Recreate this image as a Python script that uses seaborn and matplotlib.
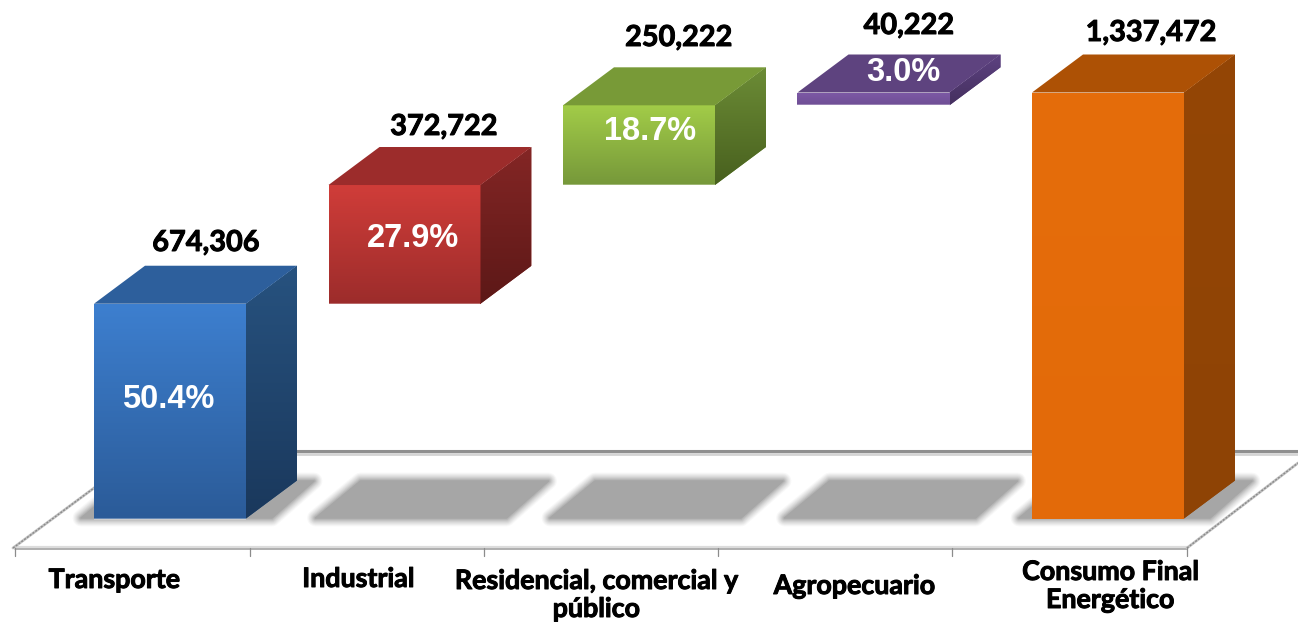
import numpy as np
import pandas as pd
import matplotlib
matplotlib.use("Agg")
import matplotlib.pyplot as plt
import matplotlib.patheffects as pe
from matplotlib.colors import to_rgb
from matplotlib.patches import Polygon
import seaborn as sns

# ---- data ----
categories = ["Transporte", "Industrial", "Residencial, comercial y\npúblico",
              "Agropecuario", "Consumo Final\nEnergético"]
values = [674306, 372722, 250222, 40222, 1337472]
bottoms = [0, 674306, 1047028, 1297250, 0]
value_labels = ["674,306", "372,722", "250,222", "40,222", "1,337,472"]
share_labels = ["50.4%", "27.9%", "18.7%", "3.0%", None]

# ---- styles ----
front_top = ["#3d7fcf", "#d03d39", "#a2cc48", "#7d59a6", "#e56d0b"]
front_bot = ["#2b5b98", "#9c2c2b", "#76983a", "#6f4f95", "#e36a09"]
side_top = ["#27527f", "#842625", "#6c8c36", "#5d4281", "#944606"]
side_bot = ["#1a385c", "#5c1817", "#48601e", "#45305f", "#8e4305"]
roof = ["#2d5f9c", "#9c2c2b", "#789a37", "#5e437f", "#ad5105"]

# ---- layout (pixels of the 1298x624 picture) ----
W, H = 1298, 624
FIRST_CENTER, STEP = 170, 234.5
BASE_PX, PX_PER_UNIT = 518.5, 426 / 1337472
BAR_W = 152 / STEP
DX, DY = 51 / STEP, 38 / PX_PER_UNIT
value_pos = [(206, 243), (444, 127), (679, 38), (909, 26), (1151, 33)]
share_pos = [(168, 399), (413, 238), (650, 131), (903, 72), None]
cat_pos = [(114, 580), (358, 579), (596, 595), (854, 586), (1110, 586)]
tick_px = [15, 250, 484, 718, 952, 1187]

sns.set_theme(style="white")
plt.rcParams["font.family"] = ["Lato", "DejaVu Sans"]

fig = plt.figure(figsize=(W / 100, H / 100), dpi=100)
ax = fig.add_axes([0, 0, 1, 1])

df = pd.DataFrame({"category": categories, "value": values})
sns.barplot(data=df, x="category", y="value", bottom=bottoms, width=BAR_W,
            color=front_top[0], linewidth=0, errorbar=None, ax=ax, zorder=2)
bars = list(ax.patches)

xlim = (-FIRST_CENTER / STEP, (W - FIRST_CENTER) / STEP)
ylim = ((BASE_PX - H) / PX_PER_UNIT, BASE_PX / PX_PER_UNIT)


def px(x, y):
    return ((x - FIRST_CENTER) / STEP, (BASE_PX - y) / PX_PER_UNIT)


def gradient_fill(patch, top, bottom, zorder):
    xy = patch.get_path().transformed(patch.get_patch_transform()).vertices
    x0, x1, y0, y1 = xy[:, 0].min(), xy[:, 0].max(), xy[:, 1].min(), xy[:, 1].max()
    ramp = np.linspace(to_rgb(top), to_rgb(bottom), 128)[:, None, :]
    im = ax.imshow(ramp, extent=(x0, x1, y0, y1), origin="upper", aspect="auto",
                   zorder=zorder, interpolation="bilinear")
    im.set_clip_path(patch)


# floor
ax.add_patch(Polygon([px(15, 548), px(1187, 548), px(1318, 451), px(144, 451)],
                     closed=True, fc="white", ec="none", zorder=0.2))
for xs, ys, c, lw, ls in [((144, 1298), (451, 451), "#8f8f8f", 2.2, "-"),
                          ((144, 1298), (454, 454), "#d4d4d4", 2.0, "-"),
                          ((15, 1187), (546.5, 546.5), "#dcdcdc", 1.6, "-"),
                          ((15, 1187), (548.5, 548.5), "#9a9a9a", 1.1, "-"),
                          ((13, 144), (548, 451), "#c4c4c4", 2.0, "-"),
                          ((13, 144), (548, 451), "#8a8a8a", 1.0, (0, (1.5, 1))),
                          ((1187, 1298), (548, 463), "#c4c4c4", 2.0, "-"),
                          ((1187, 1298), (548, 463), "#8a8a8a", 1.0, (0, (1.5, 1)))]:
    a, b = px(xs[0], ys[0]), px(xs[1], ys[1])
    ax.plot([a[0], b[0]], [a[1], b[1]], color=c, lw=lw, ls=ls, zorder=0.4)
for t in tick_px:
    a, b = px(t, 548), px(t, 556)
    ax.plot([a[0], b[0]], [a[1], b[1]], color="#8c8c8c", lw=0.9, zorder=0.4)

# bars: shadows, faces
for i, patch in enumerate(bars):
    x0 = patch.get_x()
    x1 = x0 + patch.get_width()
    y0 = patch.get_y()
    y1 = y0 + patch.get_height()

    # soft floor shadow
    left = i - BAR_W / 2
    sx = lambda off: left + off / STEP
    low, high = px(0, 518)[1], px(0, 481)[1]
    pts = [(sx(-13), low), (sx(178), low), (sx(220), high), (sx(32), high)]
    for lw, al in [(12, .08), (10.5, .1), (9, .12), (7.5, .15), (6, .2),
                   (4.5, .28), (3, .42), (1.5, .65), (0.5, 1)]:
        ax.add_patch(Polygon(pts, closed=True, fc="#a6a6a6", ec="#a6a6a6", lw=lw,
                             alpha=al, joinstyle="round", zorder=0.6))

    # front face
    patch.set_facecolor(front_top[i])
    gradient_fill(patch, front_top[i], front_bot[i], 2.1)
    if i < 4:  # pale rim along the lower edge
        ax.plot([x0, x1], [y0, y0], color="white", alpha=0.3, lw=1.4,
                solid_capstyle="butt", zorder=2.2)

    # side face
    side = Polygon([(x1, y0), (x1 + DX, y0 + DY), (x1 + DX, y1 + DY), (x1, y1)],
                   closed=True, fc=side_top[i], ec="none", zorder=2)
    ax.add_patch(side)
    gradient_fill(side, side_top[i], side_bot[i], 2.1)

    # top face
    ax.add_patch(Polygon([(x0, y1), (x1, y1), (x1 + DX, y1 + DY), (x0 + DX, y1 + DY)],
                         closed=True, fc=roof[i], ec="none", zorder=2.1))

# text
thick = [pe.withStroke(linewidth=0.7, foreground="black")]
for (x, y), s in zip(value_pos, value_labels):
    ax.text(*px(x, y), s, ha="center", va="center", fontsize=20.8, fontweight="bold",
            color="black", zorder=5, path_effects=thick)
for pos, s in zip(share_pos, share_labels):
    if s:
        ax.text(*px(*pos), s, ha="center", va="center", fontsize=23.5, fontweight="bold",
                family="Liberation Sans", color="white", zorder=5)
for (x, y), s in zip(cat_pos, categories):
    ax.text(*px(x, y), s, ha="center", va="center", fontsize=19.3, fontweight="bold",
            color="black", linespacing=1.2, zorder=5, path_effects=thick)

ax.set_xlim(*xlim)
ax.set_ylim(*ylim)
ax.axis("off")
fig.savefig("out.png", dpi=100)
